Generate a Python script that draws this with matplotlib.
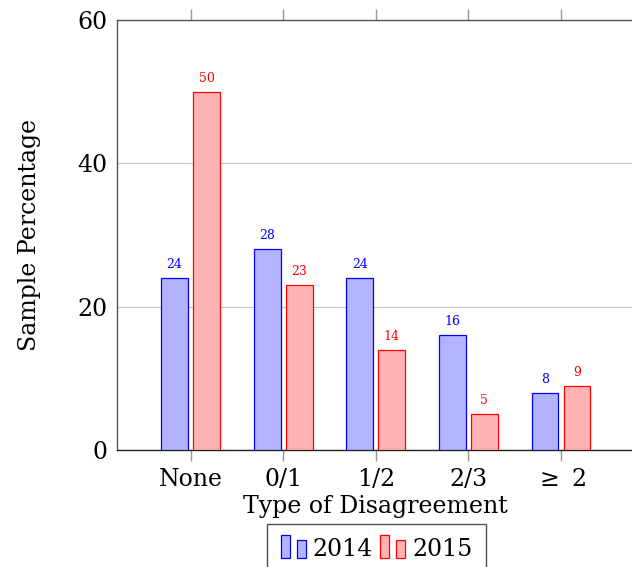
import matplotlib
matplotlib.use("Agg")
import matplotlib.pyplot as plt
from matplotlib.patches import Rectangle
from matplotlib.legend_handler import HandlerBase
import numpy as np

categories = ["None", "0/1", "1/2", "2/3", r"$\geq$ 2"]
pct_2014 = [24, 28, 24, 16, 8]
pct_2015 = [50, 23, 14, 5, 9]
yticks = [0, 20, 40, 60]

plt.rcParams["font.family"] = ["DejaVu Serif"]
plt.rcParams["mathtext.fontset"] = "dejavuserif"

W, H = 632, 567
FS = 17
fig = plt.figure(figsize=(W / 100, H / 100), dpi=100)
ax = fig.add_axes([117 / W, (H - 450) / H, (634.5 - 117) / W, (450 - 20) / H])

x = np.arange(len(categories))
bw = 0.29
off = 0.173

blue_fill, blue_edge = "#b3b3ff", "#0000ff"
red_fill, red_edge = "#ffb3b3", "#ff0000"

b1 = ax.bar(x - off, pct_2014, bw, color=blue_fill, edgecolor=blue_edge, linewidth=0.9, zorder=3)
b2 = ax.bar(x + off, pct_2015, bw, color=red_fill, edgecolor=red_edge, linewidth=0.9, zorder=3)

for xi, v in zip(x - off, pct_2014):
    ax.annotate(str(v), (xi, v), xytext=(0, 5), textcoords="offset points",
                ha="center", va="bottom", fontsize=9, color=blue_edge)
for xi, v in zip(x + off, pct_2015):
    ax.annotate(str(v), (xi, v), xytext=(0, 5), textcoords="offset points",
                ha="center", va="bottom", fontsize=9, color=red_edge)

ax.set_xlim(-0.794, len(categories) - 1 + 0.794)
ax.set_ylim(0, 60)
ax.set_yticks(yticks)
ax.set_xticks(x)
ax.set_xticklabels(categories, fontsize=FS)
ax.tick_params(axis="y", labelsize=FS, length=0, pad=7)
ax.tick_params(axis="x", which="both", bottom=True, top=True, direction="out",
               length=8, width=1, color="#999999", pad=5)
ax.grid(axis="y", color="#c8c8c8", linewidth=0.9, zorder=0)
ax.set_axisbelow(True)

for s in ["left", "top", "right"]:
    ax.spines[s].set_color("#555555")
    ax.spines[s].set_linewidth(1.0)
ax.spines["bottom"].set_color("#222222")
ax.spines["bottom"].set_linewidth(1.0)

ax.set_xlabel("Type of Disagreement", fontsize=FS, labelpad=3)
ax.set_ylabel("Sample Percentage", fontsize=FS, labelpad=26)


class PairedBarHandler(HandlerBase):
    def create_artists(self, legend, orig_handle, xdescent, ydescent,
                       width, height, fontsize, trans):
        fc = orig_handle.patches[0].get_facecolor()
        ec = orig_handle.patches[0].get_edgecolor()
        w = width * 0.36
        r1 = Rectangle((-xdescent, -ydescent - 2), w, height * 1.25 + 2,
                       facecolor=fc, edgecolor=ec, linewidth=0.9, transform=trans)
        r2 = Rectangle((-xdescent + width * 0.64, -ydescent - 2), w, height * 0.95 + 2,
                       facecolor=fc, edgecolor=ec, linewidth=0.9, transform=trans)
        return [r1, r2]


leg = fig.legend([b1, b2], ["2014", "2015"], ncol=2,
                 handler_map={type(b1): PairedBarHandler()},
                 loc="upper center", bbox_to_anchor=(376.5 / W, 1 - 523.5 / H),
                 fontsize=FS, frameon=True, fancybox=False, edgecolor="#222222",
                 handlelength=1.05, handletextpad=0.3, columnspacing=0.3,
                 borderpad=0.6, borderaxespad=0)
leg.get_frame().set_linewidth(1.0)

fig.savefig("out.png", dpi=100)
